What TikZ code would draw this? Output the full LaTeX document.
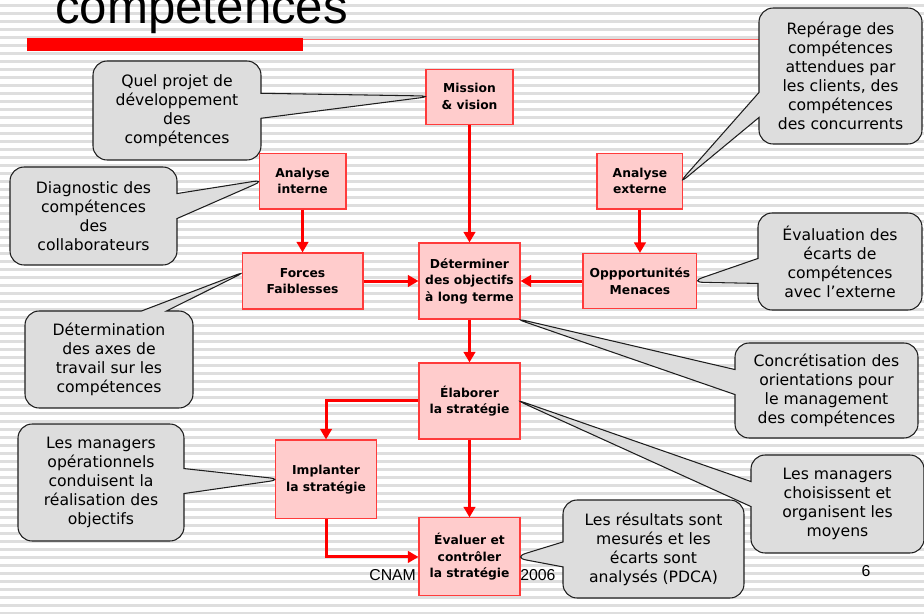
\documentclass[tikz,border=0pt]{standalone}
\usepackage{fontspec}
\setmainfont{Liberation Sans}
\newfontfamily\verd{DejaVu Sans}
\usetikzlibrary{shapes.callouts, arrows.meta}

\definecolor{boxpink}{HTML}{FFCCCC}
\definecolor{boxred}{HTML}{FF3B3B}
\definecolor{arrowred}{HTML}{FF0000}
\definecolor{notefill}{HTML}{DDDDDD}
\definecolor{noteline}{HTML}{1E1E1E}
\definecolor{stripe}{HTML}{DEDEDE}
\definecolor{barline}{HTML}{FF6A6A}

\tikzstyle{box} = [rectangle, draw=boxred, fill=boxpink, line width=0.6pt, align=center, inner sep=1pt, font=\verd\bfseries\fontsize{7}{9.4}\selectfont]
\tikzstyle{note} = [rectangle callout, rounded corners=8pt, draw=noteline, fill=notefill, line width=0.6pt, align=center, callout pointer width=0.5cm, callout pointer shorten=-4.5pt, font=\verd\fontsize{8.9}{10.8}\selectfont]
\tikzstyle{arrow} = [line width=1.7pt, draw=arrowred, -{Triangle[length=6pt,width=6.5pt]}]

\begin{document}
\begin{tikzpicture}[x=0.02cm, y=-0.02cm, node distance=2.4cm]
  \useasboundingbox (0,0) rectangle (924,613);
  \clip (0,0) rectangle (924,613);

  % slide background
  \fill[white] (0,0) rectangle (924,613);
  \foreach \k in {0,...,76}
    \fill[stripe] (0,4.3+8*\k) rectangle (924,6.7+8*\k);

  % title and bar
  \node (title) [anchor=base west, inner sep=0pt, font=\fontsize{28}{30}\selectfont] at (55,23) {compétences};
  \fill[arrowred] (27,38) rectangle (303,51);
  \draw[barline, line width=0.8pt] (303,39.5) -- (800,39.5);

  % footer
  \node (cnam) [anchor=base west, inner sep=0pt, font=\fontsize{9}{10}\selectfont] at (369,580.5) {CNAM};
  \node (year) [anchor=base west, inner sep=0pt, font=\fontsize{9}{10}\selectfont] at (520,580.5) {2006};
  \node (page) [anchor=base, inner sep=0pt, font=\fontsize{9}{10}\selectfont] at (866,576) {6};

  % process boxes
  \node (determ) [box, minimum width=2.02cm, minimum height=1.52cm] at (469.5,281) {Déterminer\\des objectifs\\à long terme};
  \node (mission) [box, above of=determ, yshift=1.29cm, minimum width=1.74cm, minimum height=1.1cm] {Mission\\\& vision};
  \node (forces) [box, left of=determ, xshift=-0.94cm, minimum width=2.42cm, minimum height=1.12cm] {Forces\\Faiblesses};
  \node (opport) [box, right of=determ, xshift=1.01cm, minimum width=2.28cm, minimum height=1.1cm] {Oppportunités\\Menaces};
  \node (intern) [box, above of=forces, yshift=-0.4cm, minimum width=1.74cm, minimum height=1.12cm] {Analyse\\interne};
  \node (extern) [box, above of=opport, yshift=-0.4cm, minimum width=1.72cm, minimum height=1.12cm] {Analyse\\externe};
  \node (elab) [box, below of=determ, minimum width=2.02cm, minimum height=1.52cm] {Élaborer\\la stratégie};
  \node (evaluer) [box, below of=elab, yshift=-0.72cm, minimum width=2.02cm, minimum height=1.56cm] {Évaluer et\\contrôler\\la stratégie};
  \node (impl) [box, left of=evaluer, xshift=-0.47cm, yshift=1.55cm, minimum width=2.02cm, minimum height=1.58cm] {Implanter\\la stratégie};

  \draw [arrow] (mission) -- (determ);
  \draw [arrow] (intern) -- (forces);
  \draw [arrow] (extern) -- (opport);
  \draw [arrow] (forces) -- (determ);
  \draw [arrow] (opport) -- (determ);
  \draw [arrow] (determ) -- (elab);
  \draw [arrow] (elab.west) -| (impl.north);
  \draw [arrow] (elab) -- (evaluer);
  \draw [arrow] (impl.south) |- (evaluer.west);

  % comments
  \node (quel) [note, minimum width=3.36cm, minimum height=1.98cm, callout absolute pointer={(mission.west)}] at (177,110.5) {Quel projet de\\développement\\des\\compétences};
  \node (reperage) [note, minimum width=3.26cm, minimum height=2.72cm, callout absolute pointer={(extern.east)}] at (840.5,76) {Repérage des\\compétences\\attendues par\\les clients, des\\compétences\\des concurrents};
  \node (diag) [note, minimum width=3.34cm, minimum height=1.96cm, callout absolute pointer={(intern.west)}] at (93.5,216) {Diagnostic des\\compétences\\des\\collaborateurs};
  \node (axes) [note, minimum width=3.36cm, minimum height=1.94cm, callout absolute pointer={(forces.174)}] at (109,359.5) {Détermination\\des axes de\\travail sur les\\compétences};
  \node (ecarts) [note, minimum width=3.28cm, minimum height=1.94cm, callout absolute pointer={(opport.east)}] at (840,261.5) {Évaluation des\\écarts de\\compétences\\avec l’externe};
  \node (concret) [note, minimum width=3.66cm, minimum height=1.9cm, callout absolute pointer={(determ.south east)}] at (826.5,390.5) {Concrétisation des\\orientations pour\\le management\\des compétences};
  \node (choix) [note, minimum width=3.46cm, minimum height=1.96cm, callout absolute pointer={(elab.east)}] at (837.5,504) {Les managers\\choisissent et\\organisent les\\moyens};
  \node (oper) [note, minimum width=3.32cm, minimum height=2.34cm, callout absolute pointer={(impl.west)}] at (101,482.5) {Les managers\\opérationnels\\conduisent la\\réalisation des\\objectifs};
  \node (result) [note, minimum width=3.62cm, minimum height=1.96cm, callout absolute pointer={(evaluer.east)}] at (653.5,549) {Les résultats sont\\mesurés et les\\écarts sont\\analysés (PDCA)};
\end{tikzpicture}
\end{document}
